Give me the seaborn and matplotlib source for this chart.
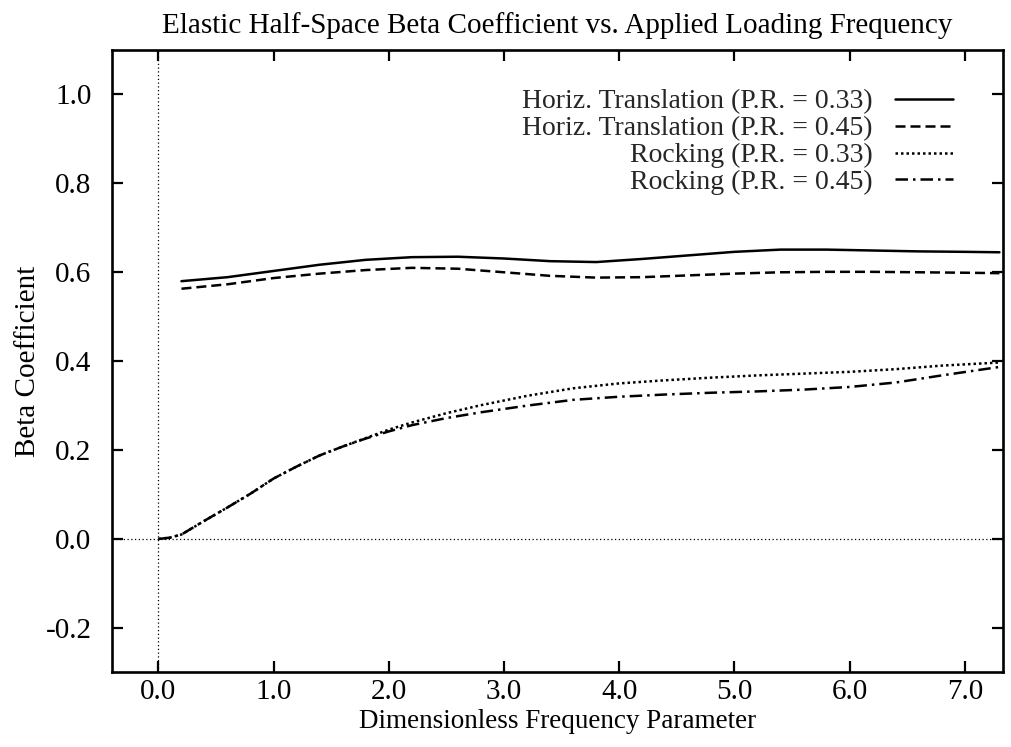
import matplotlib
matplotlib.use("Agg")
import matplotlib.pyplot as plt
import pandas as pd
import seaborn as sns

# Dimensionless frequency samples for each family of curves
freq_translation = [0.2, 0.6, 1.0, 1.4, 1.8, 2.2, 2.6, 3.0, 3.4, 3.8,
                    4.2, 4.6, 5.0, 5.4, 5.8, 6.2, 6.6, 7.0, 7.3]
freq_rocking = [0.0, 0.1, 0.2, 0.4, 0.6, 0.8, 1.0, 1.2, 1.4, 1.6, 1.8, 2.0,
                2.2, 2.5, 2.8, 3.2, 3.6, 4.0, 4.4, 4.8, 5.2, 5.6, 6.0, 6.4,
                6.8, 7.3]

# Beta coefficients
beta_horiz_033 = [0.580, 0.589, 0.603, 0.617, 0.628, 0.634, 0.635, 0.631,
                  0.625, 0.623, 0.630, 0.638, 0.646, 0.651, 0.651, 0.649,
                  0.647, 0.646, 0.645]
beta_horiz_045 = [0.563, 0.573, 0.587, 0.597, 0.605, 0.610, 0.608, 0.600,
                  0.592, 0.588, 0.589, 0.593, 0.597, 0.600, 0.601, 0.601,
                  0.600, 0.599, 0.598]
beta_rock_033 = [0.000, 0.003, 0.010, 0.041, 0.071, 0.102, 0.136, 0.163,
                 0.188, 0.208, 0.227, 0.246, 0.262, 0.283, 0.301, 0.322,
                 0.339, 0.350, 0.357, 0.363, 0.368, 0.372, 0.376, 0.382,
                 0.390, 0.397]
beta_rock_045 = [0.000, 0.003, 0.010, 0.041, 0.071, 0.102, 0.136, 0.163,
                 0.188, 0.208, 0.226, 0.242, 0.256, 0.272, 0.285, 0.300,
                 0.313, 0.320, 0.325, 0.329, 0.332, 0.336, 0.342, 0.352,
                 0.368, 0.387]

series_labels = ["Horiz. Translation (P.R. = 0.33)",
                 "Horiz. Translation (P.R. = 0.45)",
                 "Rocking (P.R. = 0.33)",
                 "Rocking (P.R. = 0.45)"]

x_ticks = [0.0, 1.0, 2.0, 3.0, 4.0, 5.0, 6.0, 7.0]
x_tick_labels = ["0.0", "1.0", "2.0", "3.0", "4.0", "5.0", "6.0", "7.0"]
y_ticks = [-0.2, 0.0, 0.2, 0.4, 0.6, 0.8, 1.0]
y_tick_labels = ["-0.2", "0.0", "0.2", "0.4", "0.6", "0.8", "1.0"]

sns.set_theme(style="ticks")
plt.rcParams["font.family"] = ["Liberation Serif", "DejaVu Serif"]
plt.rcParams["axes.unicode_minus"] = False

frames = []
for label, xs, ys in [(series_labels[0], freq_translation, beta_horiz_033),
                      (series_labels[1], freq_translation, beta_horiz_045),
                      (series_labels[2], freq_rocking, beta_rock_033),
                      (series_labels[3], freq_rocking, beta_rock_045)]:
    frames.append(pd.DataFrame({"freq": xs, "beta": ys, "series": label}))
df = pd.concat(frames, ignore_index=True)

fig = plt.figure(figsize=(10.12, 7.47), dpi=100)
ax = fig.add_axes([0.111, 0.100, 0.880, 0.833])

# dotted zero axes
ax.axhline(0.0, color="black", lw=0.9, ls=(0, (1, 2)), zorder=1)
ax.axvline(0.0, color="black", lw=0.9, ls=(0, (1, 2)), zorder=1)

line_styles = ["", (4, 2), (1, 1.2), (5, 2, 1, 2)]
sns.lineplot(data=df, x="freq", y="beta", hue="series", style="series",
             hue_order=series_labels, style_order=series_labels,
             palette=["black"] * 4, dashes=line_styles, linewidth=1.8,
             sort=False, estimator=None, ax=ax, legend=True)

ax.set_xlim(-0.4, 7.33)
ax.set_ylim(-0.3, 1.1)
ax.set_xticks(x_ticks)
ax.set_xticklabels(x_tick_labels)
ax.set_yticks(y_ticks)
ax.set_yticklabels(y_tick_labels)
ax.tick_params(axis="both", direction="in", length=8, width=1.6,
               top=True, right=True, labelsize=21, colors="black")
ax.tick_params(axis="x", pad=5)
ax.tick_params(axis="y", pad=15)
for spine in ax.spines.values():
    spine.set_linewidth(1.9)
    spine.set_color("black")

ax.set_title("Elastic Half-Space Beta Coefficient vs. Applied Loading Frequency",
             fontsize=21, pad=12, color="black")
ax.set_xlabel("Dimensionless Frequency Parameter", fontsize=19.5,
              labelpad=3, color="black")
ax.set_ylabel("Beta Coefficient", fontsize=21, labelpad=3, color="black")

handles, labels = ax.get_legend_handles_labels()
ax.legend(handles, labels, loc="upper right", bbox_to_anchor=(0.957, 0.955),
          borderaxespad=0, frameon=False, markerfirst=False, fontsize=20,
          handlelength=2.1, handletextpad=0.8, labelspacing=0.05)

fig.savefig("out.png", dpi=100, facecolor="white")
